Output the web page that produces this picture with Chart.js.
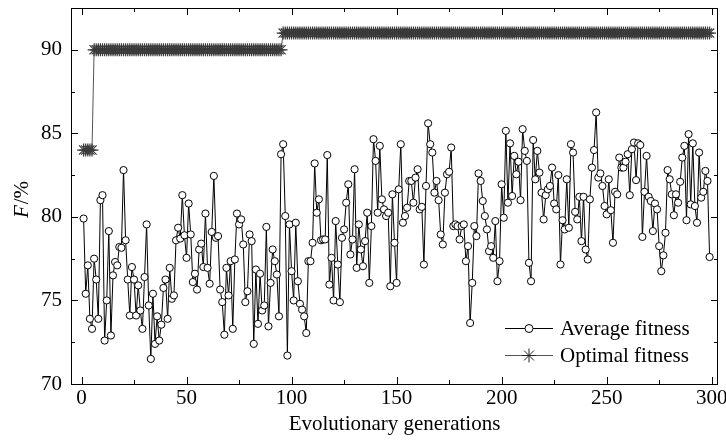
<!DOCTYPE html>
<html lang="en">
<head>
  <meta charset="UTF-8">
  <title>Fitness over generations</title>
  <style>
    body {
      margin: 0;
      background: #fff;
    }
    .chart-box {
      width: 726px;
      height: 441px;
    }
  </style>
</head>
<body>
  <div class="chart-box">
    <canvas id="fitnessChart" width="726" height="441"></canvas>
  </div>

  <script src="https://cdn.jsdelivr.net/npm/chart.js"></script>
  <script>
    // Average fitness per generation (generation 1 .. 299)
    const averageFitness = [
      79.9, 75.4, 77.1, 73.9, 73.3, 77.5, 76.25, 73.9, 81.0, 81.3,
      72.6, 75.0, 79.15, 72.9, 76.5, 77.3, 77.1, 78.2, 78.15, 82.8,
      78.6, 76.25, 74.1, 77.0, 76.25, 74.1, 75.9, 74.4, 73.3, 76.4,
      79.55, 74.7, 71.5, 75.4, 72.4, 74.05, 72.6, 73.55, 75.75, 76.25,
      73.9, 76.95, 75.1, 75.3, 78.6, 79.35, 78.7, 81.3, 78.9, 77.55,
      80.8, 78.95, 76.1, 76.6, 75.65, 78.05, 78.4, 77.0, 80.2, 76.95,
      76.0, 79.1, 82.45, 78.75, 78.85, 75.65, 74.9, 72.95, 76.95, 75.3,
      77.35, 73.3, 77.45, 80.2, 79.55, 79.85, 78.35, 74.9, 75.55, 78.95,
      78.55, 72.4, 76.85, 73.6, 76.6, 74.4, 74.7, 79.4, 73.45, 76.05,
      78.05, 77.35, 76.55, 74.05, 83.75, 84.35, 80.05, 71.7, 79.55, 76.75,
      75.0, 79.65, 76.15, 74.8, 74.45, 74.05, 73.05, 77.35, 77.35, 78.45,
      83.2, 80.25, 81.05, 78.6, 78.65, 78.65, 83.7, 75.95, 77.55, 75.0,
      79.75, 77.15, 74.9, 78.75, 79.25, 80.85, 81.95, 77.75, 78.65, 82.85,
      76.95, 79.55, 78.05, 77.05, 78.55, 80.25, 76.05, 79.45, 84.65, 83.35,
      80.25, 84.25, 81.05, 80.45, 80.05, 80.25, 75.85, 81.35, 78.45, 76.05,
      81.65, 84.35, 79.65, 80.05, 80.55, 82.15, 82.15, 80.85, 82.35, 82.85,
      80.45, 80.6, 77.15, 81.85, 85.6, 84.35, 83.85, 81.45, 82.15, 81.0,
      78.95, 78.35, 81.45, 82.55, 82.7, 84.15, 79.45, 79.55, 79.45, 78.65,
      79.45, 79.55, 77.35, 78.25, 73.65, 76.05, 79.45, 78.85, 82.6, 82.15,
      80.95, 80.05, 79.25, 77.95, 78.25, 77.55, 79.75, 76.15, 77.35, 81.95,
      79.95, 85.15, 80.85, 84.4, 81.25, 83.65, 82.55, 83.3, 81.0, 85.25,
      83.95, 83.35, 77.25, 76.15, 84.6, 82.25, 83.95, 82.65, 81.45, 79.85,
      81.3, 81.65, 81.85, 82.95, 80.8, 80.45, 82.5, 77.15, 79.8, 79.25,
      82.25, 79.35, 84.35, 83.85, 80.3, 79.85, 81.2, 78.55, 81.2, 78.05,
      77.45, 81.05, 82.95, 84.0, 86.25, 82.35, 82.6, 81.85, 80.65, 80.15,
      82.25, 80.4, 78.45, 81.5, 81.35, 83.55, 82.95, 82.95, 83.3, 83.75,
      81.3, 84.05, 84.45, 82.2, 84.4, 84.3, 78.8, 81.5, 83.65, 81.2,
      80.95, 79.15, 80.8, 80.45, 78.25, 76.75, 77.7, 79.05, 82.8, 82.25,
      81.35, 80.1, 81.35, 80.85, 82.1, 83.55, 84.25, 79.8, 84.95, 80.75,
      84.4, 80.65, 79.65, 83.85, 81.15, 81.5, 82.75, 82.15, 77.6
    ];

    // Optimal fitness is a step line: [first generation, last generation, value]
    const optimalRuns = [
      [1, 5, 84],
      [6, 95, 90],
      [96, 299, 91]
    ];

    const seriesNames = ['Average fitness', 'Optimal fitness'];
    const xMajorTicks = [0, 50, 100, 150, 200, 250, 300];
    const xMinorTicks = [25, 75, 125, 175, 225, 275];
    const yMajorTicks = [70, 75, 80, 85, 90];
    const yMinorTicks = [72.5, 77.5, 82.5, 87.5];

    const serif = "'Liberation Serif', 'Times New Roman', serif";
    const fontSize = 21;
    const optimalGray = '#3a3a3a';

    const averagePoints = averageFitness.map((v, i) => ({ x: i + 1, y: v }));
    const optimalPoints = [];
    optimalRuns.forEach(([from, to, value]) => {
      for (let g = from; g <= to; g++) optimalPoints.push({ x: g, y: value });
    });

    function drawStar(ctx, x, y, r) {
      ctx.beginPath();
      for (let k = 0; k < 4; k++) {
        const a = k * Math.PI / 4;
        ctx.moveTo(x - r * Math.cos(a), y - r * Math.sin(a));
        ctx.lineTo(x + r * Math.cos(a), y + r * Math.sin(a));
      }
      ctx.stroke();
    }

    // Frame, inward ticks, y title and the legend inside the plot
    const framePlugin = {
      id: 'frame',
      afterDraw(chart) {
        const { ctx, chartArea: a, scales } = chart;
        const xs = scales.x, ys = scales.y;
        ctx.save();
        ctx.strokeStyle = '#000';
        ctx.lineWidth = 1;
        ctx.strokeRect(a.left + 0.5, a.top + 0.5, a.right - a.left - 1, a.bottom - a.top);

        ctx.beginPath();
        const xt = (list, len) => list.forEach(v => {
          const px = Math.round(xs.getPixelForValue(v)) + 0.5;
          ctx.moveTo(px, a.bottom); ctx.lineTo(px, a.bottom - len);
          ctx.moveTo(px, a.top); ctx.lineTo(px, a.top + len);
        });
        const yt = (list, len) => list.forEach(v => {
          const py = Math.round(ys.getPixelForValue(v)) + 0.5;
          ctx.moveTo(a.left, py); ctx.lineTo(a.left + len, py);
          ctx.moveTo(a.right, py); ctx.lineTo(a.right - len, py);
        });
        xt(xMajorTicks, 7); xt(xMinorTicks, 4);
        yt(yMajorTicks, 7); yt(yMinorTicks, 4);
        ctx.stroke();

        // y axis title: italic F followed by /%
        ctx.fillStyle = '#000';
        ctx.translate(22, (a.top + a.bottom) / 2 + 4);
        ctx.rotate(-Math.PI / 2);
        ctx.textBaseline = 'middle';
        ctx.font = 'italic ' + fontSize + 'px ' + serif;
        const wF = ctx.measureText('F').width;
        ctx.font = fontSize + 'px ' + serif;
        const wRest = ctx.measureText('/%').width;
        const start = -(wF + wRest) / 2;
        ctx.font = 'italic ' + fontSize + 'px ' + serif;
        ctx.textAlign = 'left';
        ctx.fillText('F', start, 0);
        ctx.font = fontSize + 'px ' + serif;
        ctx.fillText('/%', start + wF + 1, 0);
        ctx.restore();

        // legend
        ctx.save();
        const lx = a.right - 213, rows = [a.bottom - 56, a.bottom - 29];
        ctx.font = fontSize + 'px ' + serif;
        ctx.textBaseline = 'middle';
        ctx.fillStyle = '#000';
        rows.forEach((ry, i) => {
          ctx.lineWidth = 1;
          ctx.strokeStyle = i === 0 ? '#000' : '#555';
          ctx.beginPath();
          ctx.moveTo(lx, ry + 0.5); ctx.lineTo(lx + 48, ry + 0.5);
          ctx.stroke();
          if (i === 0) {
            ctx.beginPath();
            ctx.arc(lx + 24, ry + 0.5, 4, 0, Math.PI * 2);
            ctx.fillStyle = '#fff';
            ctx.fill();
            ctx.strokeStyle = '#000';
            ctx.stroke();
          } else {
            ctx.strokeStyle = '#222';
            drawStar(ctx, lx + 24, ry + 0.5, 7);
          }
          ctx.fillStyle = '#000';
          ctx.fillText(seriesNames[i], lx + 55, ry + 1);
        });
        ctx.restore();
      }
    };

    const ctx = document.getElementById('fitnessChart').getContext('2d');
    new Chart(ctx, {
      type: 'line',
      data: {
        datasets: [
          {
            label: seriesNames[0],
            data: averagePoints,
            borderColor: '#000',
            borderWidth: 1,
            pointRadius: 3.6,
            pointBorderWidth: 1,
            pointBackgroundColor: '#fff',
            pointBorderColor: '#000',
            tension: 0
          },
          {
            label: seriesNames[1],
            data: optimalPoints,
            borderColor: '#555',
            borderWidth: 1,
            pointStyle: 'star',
            pointRadius: 6.5,
            pointBorderWidth: 1.2,
            pointBorderColor: optimalGray,
            pointBackgroundColor: optimalGray,
            tension: 0
          }
        ]
      },
      options: {
        responsive: false,
        animation: false,
        layout: { padding: { top: 8, right: 8, left: 0, bottom: 0 } },
        plugins: {
          legend: { display: false },
          tooltip: { enabled: false }
        },
        scales: {
          x: {
            type: 'linear',
            min: -5,
            max: 303,
            afterBuildTicks: s => { s.ticks = xMajorTicks.map(v => ({ value: v })); },
            afterFit: s => { s.height = 57; s.paddingLeft = 0; s.paddingRight = 0; },
            grid: { display: false, drawTicks: false },
            border: { display: false },
            ticks: {
              color: '#000',
              font: { family: serif, size: fontSize },
              padding: 2,
              maxRotation: 0,
              autoSkip: false
            },
            title: {
              display: true,
              text: 'Evolutionary generations',
              color: '#000',
              font: { family: serif, size: fontSize },
              padding: { top: 0, bottom: 4 }
            }
          },
          y: {
            min: 70,
            max: 92.5,
            afterBuildTicks: s => { s.ticks = yMajorTicks.map(v => ({ value: v })); },
            afterFit: s => { s.width = 71; s.paddingTop = 0; s.paddingBottom = 0; },
            grid: { display: false, drawTicks: false },
            border: { display: false },
            ticks: {
              color: '#000',
              font: { family: serif, size: fontSize },
              padding: 9
            }
          }
        }
      },
      plugins: [framePlugin]
    });
  </script>
</body>
</html>
